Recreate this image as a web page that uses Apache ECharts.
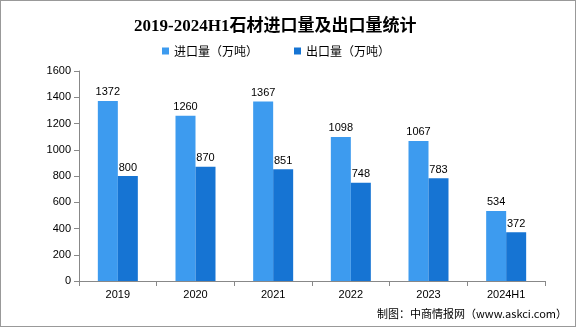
<!DOCTYPE html>
<html><head><meta charset="utf-8">
<script src="https://cdn.jsdelivr.net/npm/echarts@6/dist/echarts.min.js"></script>
<style>html,body{margin:0;padding:0;background:#fff}#c{width:576px;height:327px;box-sizing:border-box;border:1px solid #999}</style>
</head><body><div id="c"></div>
<script>
const categories = ['2019','2020','2021','2022','2023','2024H1'];
const importVals = [1372,1260,1367,1098,1067,534];
const exportVals = [800,870,851,748,783,372];

const chart = echarts.init(document.getElementById('c'));
const lblFont = {color:'#000',fontSize:11,fontFamily:'Liberation Sans, Arial, sans-serif'};
chart.setOption({
  animation:false,
  title:{text:'2019-2024H1石材进口量及出口量统计',left:128,top:12,
    textStyle:{fontSize:17,fontWeight:'bold',color:'#000',fontFamily:'Liberation Serif, "Noto Sans CJK SC", serif'}},
  legend:{top:39,left:156,itemWidth:7,itemHeight:7,itemGap:36,icon:'rect',
    textStyle:{fontSize:12,color:'#000',fontFamily:'"Noto Sans CJK SC", sans-serif'},
    data:['进口量（万吨）','出口量（万吨）']},
  grid:{left:78,right:30,top:70,bottom:45,containLabel:false},
  xAxis:{type:'category',data:categories,
    axisLine:{lineStyle:{color:'#888'}},
    axisTick:{show:true,alignWithLabel:false,length:5,lineStyle:{color:'#888'}},
    axisLabel:{...lblFont,margin:8}},
  yAxis:{type:'value',min:0,max:1600,interval:200,
    axisLine:{show:true,lineStyle:{color:'#888'}},
    axisTick:{show:true,length:5,lineStyle:{color:'#888'}},
    splitLine:{show:false},
    axisLabel:{...lblFont,margin:8,formatter:v=>String(v)}},
  series:[
    {name:'进口量（万吨）',type:'bar',data:importVals,barWidth:20,barGap:'0%',
     itemStyle:{color:'#3D9BEF'},label:{show:true,position:'top',...lblFont,distance:3}},
    {name:'出口量（万吨）',type:'bar',data:exportVals,barWidth:20,
     itemStyle:{color:'#1674D3'},label:{show:true,position:'top',...lblFont,distance:3}}
  ],
  graphic:[{type:'text',right:8,bottom:7,style:{text:'制图：中商情报网（www.askci.com）',fontSize:11,fill:'#000',fontFamily:'"Noto Sans CJK SC", sans-serif'}}]
});
</script></body></html>
